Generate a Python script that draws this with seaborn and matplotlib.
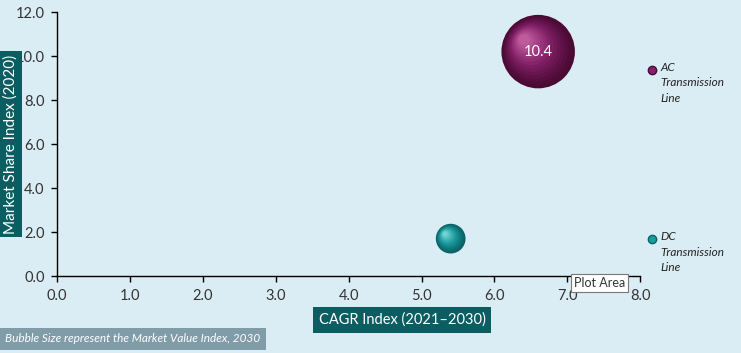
import matplotlib
matplotlib.use("Agg")
import matplotlib.pyplot as plt
import matplotlib.transforms as mtransforms
import numpy as np
import pandas as pd
import seaborn as sns
from matplotlib.colors import to_rgb
from matplotlib.lines import Line2D

# data
segments = ["AC Transmission Line", "DC Transmission Line"]
legend_labels = ["AC\nTransmission\nLine", "DC\nTransmission\nLine"]
cagr_index = [6.6, 5.4]
share_index = [10.2, 1.7]
value_index = [10.4, 1.7]
bubble_labels = ["10.4", ""]
x_ticks = [0.0, 1.0, 2.0, 3.0, 4.0, 5.0, 6.0, 7.0, 8.0]
y_ticks = [0.0, 2.0, 4.0, 6.0, 8.0, 10.0, 12.0]

# styling
bg = "#dbedf4"
teal_box = "#0b5d62"
note_box = "#7f9ca8"
dark_cols = ["#4a0a34", "#0a6266"]
mid_cols = ["#85206a", "#1a9c9e"]
light_cols = ["#c965a6", "#7fdcdc"]
max_area = 2800

df = pd.DataFrame({"segment": segments, "cagr": cagr_index,
                   "share": share_index, "value": value_index})

sns.set_theme(style="white")
plt.rcParams["font.family"] = ["Lato", "DejaVu Sans"]

fig = plt.figure(figsize=(7.41, 3.53), dpi=100, facecolor=bg)
ax = fig.add_axes([0.077, 0.218, 0.787, 0.748])
ax.set_facecolor(bg)

def mix(c1, c2, t):
    a, b = np.array(to_rgb(c1)), np.array(to_rgb(c2))
    return tuple(a + (b - a) * t)

# shaded spheres: stacked markers getting smaller and lighter toward a highlight
steps = 14
for i, row in df.iterrows():
    area = max_area * row["value"] / max(value_index)
    r_pt = np.sqrt(area) / 2
    sub = df.iloc[[i]]
    for k in range(steps):
        t = k / (steps - 1)
        if t < 0.45:
            col = mix(dark_cols[i], mid_cols[i], t / 0.45)
        else:
            col = mix(mid_cols[i], light_cols[i], (t - 0.45) / 0.55)
        scale = 1 - 0.85 * t
        tr = mtransforms.offset_copy(ax.transData, fig=fig,
                                     x=-0.38 * r_pt * t, y=0.32 * r_pt * t,
                                     units="points")
        sns.scatterplot(data=sub, x="cagr", y="share", ax=ax,
                        s=area * scale ** 2, color=col, edgecolor="none",
                        linewidth=0, alpha=1 if k == 0 else 0.5,
                        transform=tr, legend=False, zorder=3 + k * 0.01)
    if bubble_labels[i]:
        ax.text(row["cagr"], row["share"], bubble_labels[i], color="white",
                fontsize=10.5, ha="center", va="center", zorder=5)

ax.set_xlim(0, 8)
ax.set_ylim(0, 12)
ax.set_xticks(x_ticks)
ax.set_yticks(y_ticks)
ax.set_xticklabels([f"{v:.1f}" for v in x_ticks])
ax.set_yticklabels([f"{v:.1f}" for v in y_ticks])
ax.tick_params(axis="both", which="major", direction="out", length=4,
               width=1, color="black", labelsize=10.5, labelcolor="#333333",
               bottom=True, left=True, pad=5)
ax.tick_params(axis="x", pad=5)
sns.despine(ax=ax)
for side in ["left", "bottom"]:
    ax.spines[side].set_color("black")
    ax.spines[side].set_linewidth(1)
ax.set_xlabel("")
ax.set_ylabel("")

# axis title boxes
fig.text(11 / 741, 1 - 144 / 353, "Market Share Index (2020)", rotation=90,
         ha="center", va="center", color="white", fontsize=11,
         bbox=dict(boxstyle="square,pad=0.25", fc=teal_box, ec="none"))
fig.text(402 / 741, 1 - 320 / 353, "CAGR Index (2021\u20132030)",
         ha="center", va="center", color="white", fontsize=10.5,
         bbox=dict(boxstyle="square,pad=0.4", fc=teal_box, ec="none"))
fig.text(5 / 741, 1 - 339 / 353,
         "Bubble Size represent the Market Value Index, 2030",
         ha="left", va="center", color="white", fontsize=8.5, style="italic",
         bbox=dict(boxstyle="square,pad=0.5", fc=note_box, ec="none"))

# legend
legend_y = [70, 239]
for i, lab in enumerate(legend_labels):
    y = 1 - legend_y[i] / 353
    fig.add_artist(Line2D([652 / 741], [y], marker="o", markersize=6,
                          color=mid_cols[i], markeredgecolor=dark_cols[i],
                          transform=fig.transFigure, linestyle="none"))
    fig.text(660 / 741, y + 8 / 353, lab, ha="left", va="top",
             fontsize=8.5, style="italic", color="#222222", linespacing=1.5)

# tooltip seen on the reference screenshot
fig.text(574 / 741, 1 - 283 / 353, "Plot Area", ha="left", va="center",
         fontsize=9, color="#333333",
         bbox=dict(boxstyle="square,pad=0.25", fc="white", ec="#777777", lw=0.8))

fig.savefig("out.png", dpi=100, facecolor=bg)
